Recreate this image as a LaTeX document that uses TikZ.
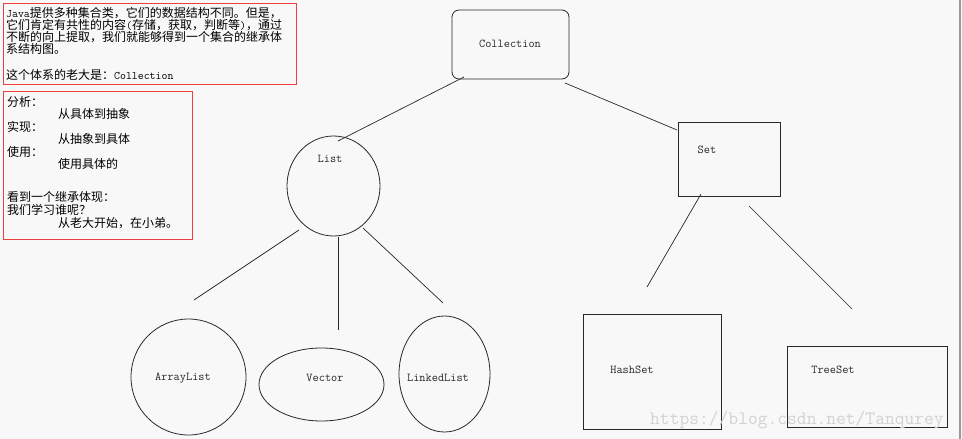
\documentclass[tikz,border=0pt]{standalone}
\usepackage{fontspec}
\usetikzlibrary{shapes.geometric}
\newfontfamily\cjk{Noto Sans CJK SC}
\newcommand{\lt}[1]{{\ttfamily\fontsize{11.5}{12}\selectfont #1}}
\definecolor{bg}{RGB}{248,248,248}
\definecolor{redbox}{RGB}{236,64,64}
\definecolor{ink}{RGB}{40,40,40}
\definecolor{wm}{RGB}{210,210,210}
\begin{document}
\begin{tikzpicture}[x=1pt,y=-1pt,
  shp/.style={draw=ink,line width=0.8pt,inner sep=0pt,minimum width=#1},
  ell/.style={ellipse,draw=ink,line width=0.8pt,inner sep=0pt},
  rbox/.style={draw=redbox,line width=1pt},
  txt/.style={anchor=west,inner sep=0pt,font=\cjk\fontsize{12}{12}\selectfont},
  lbl/.style={inner sep=0pt,font=\ttfamily\fontsize{12}{12}\selectfont,text=ink},
  conn/.style={draw=ink,line width=0.7pt}]
\useasboundingbox (0,0) rectangle (962,439);
\fill[bg] (0,0) rectangle (962,439);
\draw[gray!80,line width=2pt] (960,0) -- (960,439);

% red text boxes
\draw[rbox] (3,3) rectangle (296,84);
\draw[rbox] (3,91) rectangle (192,239);

\node[txt] (t1) at (6,13) {\lt{Java}提供多种集合类，它们的数据结构不同。但是，};
\node[txt] (t2) at (6,25) {它们肯定有共性的内容\lt{(}存储，获取，判断等\lt{)}，通过};
\node[txt] (t3) at (6,37) {不断的向上提取，我们就能够得到一个集合的继承体};
\node[txt] (t4) at (6,49) {系结构图。};
\node[txt] (t5) at (6,75) {这个体系的老大是：\lt{Collection}};

\node[txt] (a1) at (7,102) {分析：};
\node[txt] (a2) at (58,114) {从具体到抽象};
\node[txt] (a3) at (7,127) {实现：};
\node[txt] (a4) at (58,139) {从抽象到具体};
\node[txt] (a5) at (7,152) {使用：};
\node[txt] (a6) at (58,164) {使用具体的};
\node[txt] (a7) at (7,197) {看到一个继承体现：};
\node[txt] (a8) at (7,210) {我们学习谁呢？};
\node[txt] (a9) at (58,223) {从老大开始，在小弟。};

% shapes
\node[shp=117pt,minimum height=69pt,rounded corners=7pt] (coll) at (510.5,44.5) {};
\node[shp=102pt,minimum height=74pt] (set) at (729,159) {};
\node[shp=138pt,minimum height=115pt] (hash) at (652,371.5) {};
\node[shp=160pt,minimum height=81pt] (tree) at (867,386.5) {};
\node[ell,minimum width=93pt,minimum height=100pt] (list) at (333.5,186) {};
\node[ell,minimum width=115pt,minimum height=116pt] (arr) at (188.5,377) {};
\node[ell,minimum width=125pt,minimum height=73pt] (vec) at (321.5,384.5) {};
\node[ell,minimum width=91pt,minimum height=116pt] (link) at (444.5,374) {};

% labels
\node[lbl] (lcoll) at (510,44) {Collection};
\node[lbl] (lset) at (707,150) {Set};
\node[lbl] (llist) at (330,159) {List};
\node[lbl] (larr) at (183,378) {ArrayList};
\node[lbl] (lvec) at (325,378) {Vector};
\node[lbl] (llink) at (438,378) {LinkedList};
\node[lbl] (lhash) at (632,370) {HashSet};
\node[lbl] (ltree) at (833,370) {TreeSet};

% connector end points
\coordinate (c1a) at (464,77);
\coordinate (c1b) at (338,141);
\coordinate (c2a) at (565,83);
\coordinate (c2b) at (677,130);
\coordinate (c3a) at (299,230);
\coordinate (c3b) at (194,300);
\coordinate (c4a) at (338,237);
\coordinate (c4b) at (338,330);
\coordinate (c5a) at (363,228);
\coordinate (c5b) at (443,303);
\coordinate (c6a) at (701,194);
\coordinate (c6b) at (647,287);
\coordinate (c7a) at (749,206);
\coordinate (c7b) at (852,309);

\draw[conn] (c1a) -- (c1b);
\draw[conn] (c2a) -- (c2b);
\draw[conn] (c3a) -- (c3b);
\draw[conn] (c4a) -- (c4b);
\draw[conn] (c5a) -- (c5b);
\draw[conn] (c6a) -- (c6b);
\draw[conn] (c7a) -- (c7b);

% watermark
\node[anchor=base west,inner sep=0pt,text=wm,font=\ttfamily\fontsize{19}{20}\selectfont] (wmk) at (650,424) {https://blog.csdn.net/Tanqurey};
\end{tikzpicture}
\end{document}
